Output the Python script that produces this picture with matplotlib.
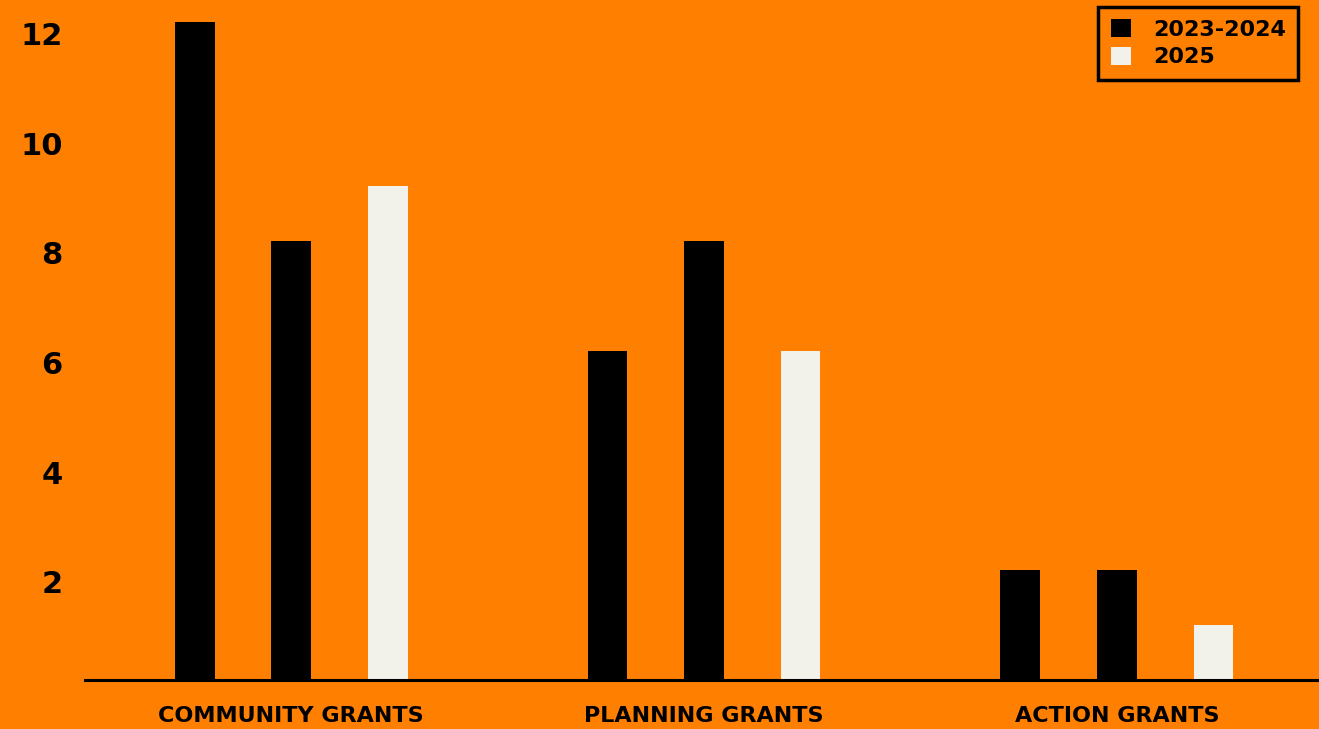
import numpy as np
import matplotlib.pyplot as plt

categories = ['COMMUNITY GRANTS', 'PLANNING GRANTS', 'ACTION GRANTS']
grants_2023 = [12, 6, 2]
grants_2024 = [8, 8, 2]
grants_2025 = [9, 6, 1]
yticks = [2, 4, 6, 8, 10, 12]

orange = '#FF7F00'
cream = '#F2F1EA'

plt.rcParams['font.family'] = 'DejaVu Sans'
plt.rcParams['font.weight'] = 'heavy'
plt.rcParams['ytick.alignment'] = 'top'

fig = plt.figure(figsize=(13.19, 7.29), dpi=100, facecolor=orange)
ax = fig.add_axes([0.0644, 0.0672, 0.9356, 0.9328])
ax.set_facecolor(orange)

x = np.arange(len(categories))
step = 0.234
w = 0.096
ax.bar(x - step, grants_2023, w, color='black', label='2023-2024')
ax.bar(x, grants_2024, w, color='black')
ax.bar(x + step, grants_2025, w, color=cream, label='2025')

ax.set_xlim(-0.5, 2.49)
ax.set_ylim(0, 12.4)
ax.set_xticks(x)
ax.set_xticklabels(categories, fontsize=16, fontweight='heavy')
ax.tick_params(axis='x', length=0, pad=19)
ax.set_yticks(yticks)
ax.set_yticklabels([str(t) for t in yticks], fontsize=22, fontweight='heavy')
ax.tick_params(axis='y', length=0, pad=16)

for s in ['top', 'right', 'left']:
    ax.spines[s].set_visible(False)
ax.spines['bottom'].set_linewidth(2.2)
ax.spines['bottom'].set_color('black')

# legend: both black series share one entry
leg = ax.legend(loc='upper right', bbox_to_anchor=(0.983, 0.99), borderaxespad=0,
                frameon=True, fancybox=False, handlelength=0.9,
                handleheight=0.9, handletextpad=1.0, labelspacing=0.3,
                borderpad=0.55, prop={'weight': 'heavy', 'size': 16})
leg.get_frame().set_edgecolor('black')
leg.get_frame().set_linewidth(2.5)
leg.get_frame().set_facecolor(orange)
leg.get_frame().set_alpha(1)

fig.savefig('out.png', dpi=100, facecolor=orange)
